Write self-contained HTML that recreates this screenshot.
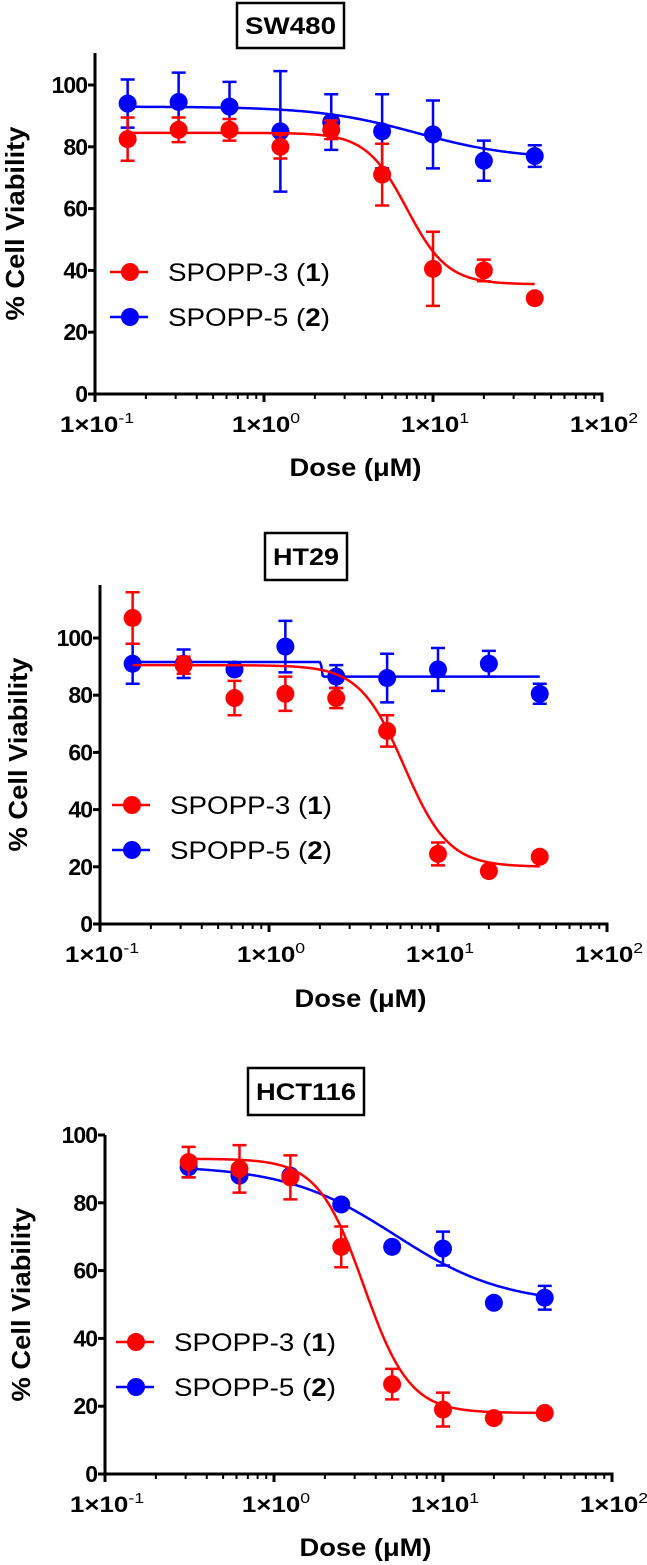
<!DOCTYPE html>
<html><head><meta charset="utf-8"><style>
html,body{margin:0;padding:0;background:#fff;}
svg{display:block;font-family:"Liberation Sans",Arial,sans-serif;}
</style></head><body>
<svg id="fig" width="647" height="1565" viewBox="0 0 647 1565" xmlns="http://www.w3.org/2000/svg"></svg>
<script>
const doses9 = [0.156, 0.3125, 0.625, 1.25, 2.5, 5, 10, 20, 40];
const doses8 = [0.3125, 0.625, 1.25, 2.5, 5, 10, 20, 40];
const yTicks = [0, 20, 40, 60, 80, 100];
const xTickExps = [-1, 0, 1, 2];
const legendLabels = ["SPOPP-3 (", "SPOPP-5 ("];
const legendNums = ["1", "2"];

const sw480Red = [82.5, 85.5, 85.5, 80, 85.5, 71, 40.5, 40, 31];
const sw480RedErr = [7, 4, 3.5, 3.8, 3, 10, 12, 3.5, 0];
const sw480Blue = [94, 94.5, 93, 85, 88, 85, 84, 75.5, 77];
const sw480BlueErr = [7.8, 9.5, 8, 19.5, 9, 12, 11, 6.5, 3.5];
const sw480RedFit = [84.5, 35.5, 7.0, 3.6];
const sw480BlueFit = [93, 76, 8, 1.5];

const ht29Red = [107, 90.5, 79, 80.5, 79, 67.5, 24.5, 18.5, 23.5];
const ht29RedErr = [9, 3, 6, 6, 3.5, 5.5, 4, 0, 0];
const ht29Blue = [91, 91, 89, 97, 86.5, 86, 89, 91, 80.5];
const ht29BlueErr = [7, 5, 0, 9, 4, 8.5, 7.5, 4.5, 3.5];
const ht29RedFit = [90.5, 20, 6.3, 3.3];
const ht29BlueFit = [91.6, 86.5, 2.05, 200];

const hctRed = [92, 90, 87.5, 67, 26.5, 19, 16.5, 18];
const hctRedErr = [4.5, 7, 6.5, 6, 4.5, 5, 0, 0];
const hctBlue = [90.5, 88, 88, 79.5, 67, 66.5, 50.5, 52];
const hctBlueErr = [3, 0, 0, 0, 0, 5, 0, 3.5];
const hctRedFit = [93, 18, 3.4, 3.2];
const hctBlueFit = [91, 50, 5.2, 1.34];

const NS = "http://www.w3.org/2000/svg";
const svg = document.getElementById('fig');
function mk(tag, attrs, parent) {
  const e = document.createElementNS(NS, tag);
  for (const k in attrs) e.setAttribute(k, attrs[k]);
  (parent || svg).appendChild(e);
  return e;
}
const RED = "#ff0000", BLUE = "#0000ff";

function chart(cfg) {
  const g = mk('g', {});
  
  
  const x0 = cfg.axX, dec = 169, y0 = cfg.y0, y100 = cfg.y100;
  const xs = d => x0 + (Math.log10(d) + 1) * dec;
  const ys = v => y0 - (v / 100) * (y0 - y100);
  const tb = mk('rect', {x: cfg.box[0], y: cfg.box[1], width: cfg.box[2], height: cfg.box[3], fill: '#fff', stroke: '#000', 'stroke-width': 2.5}, g);
  
  
  const tt = mk('text', {x: cfg.box[0] + 8, y: cfg.box[1] + cfg.box[3] / 2 + 8.5, 'font-size': 24, 'font-weight': 'bold', textLength: cfg.box[2] - 16, lengthAdjust: 'spacingAndGlyphs'}, g);
  tt.textContent = cfg.title;
  
  
  const ya = mk('line', {x1: x0, y1: cfg.top, x2: x0, y2: y0 + 1.5, stroke: '#000', 'stroke-width': 3}, g);
  
  
  const xa = mk('line', {x1: x0 - 1.5, y1: y0, x2: xs(100) + 1.5, y2: y0, stroke: '#000', 'stroke-width': 3}, g);
  
  
  yTicks.forEach(v => {
    const tl = mk('line', {x1: x0 - 7, y1: ys(v), x2: x0, y2: ys(v), stroke: '#000', 'stroke-width': 3}, g);
    
    
    const t = mk('text', {x: x0 - 8, y: ys(v) + 8, 'text-anchor': 'end', 'font-size': 23, 'font-weight': 'bold', 'letter-spacing': '-1'}, g);
    t.textContent = v;
    
    
  });
  xTickExps.forEach((e, i) => {
    const d = Math.pow(10, e);
    const tl = mk('line', {x1: xs(d), y1: y0, x2: xs(d), y2: y0 + 8, stroke: '#000', 'stroke-width': 3}, g);
    
    
    if (i < xTickExps.length - 1) {
      for (let m = 2; m <= 9; m++) {
        const mt = mk('line', {x1: xs(d * m), y1: y0, x2: xs(d * m), y2: y0 + 5, stroke: '#000', 'stroke-width': 2}, g);
        
        
      }
    }
    const lg = mk('g', {transform: `translate(${xs(d) + 2},${y0 + 38}) scale(1.18,1)`}, g);
    const t = mk('text', {x: 0, y: 0, 'text-anchor': 'middle', 'font-size': 22, 'font-weight': 'bold'}, lg);
    
    
    const s1 = mk('tspan', {}, t); s1.textContent = '1×10';
    const s2 = mk('tspan', {dy: -9, 'font-size': 15, 'font-weight': 'normal'}, t); s2.textContent = String(e);
  });
  const dx = (x0 + xs(100)) / 2 + 7;
  const xl = mk('text', {x: dx - 66, y: cfg.doseY, 'font-size': 25, 'font-weight': 'bold', textLength: 132, lengthAdjust: 'spacingAndGlyphs'}, g);
  xl.textContent = 'Dose (μM)';
  
  
  const ylc = (cfg.top + y0) / 2 + cfg.ylOff;
  const yl = mk('text', {x: -97, y: 0, transform: `translate(${cfg.ylX},${ylc}) rotate(-90)`, 'font-size': 26, 'font-weight': 'bold', textLength: 194, lengthAdjust: 'spacingAndGlyphs'}, g);
  yl.textContent = '% Cell Viability';
  
  

  function series(doses, vals, errs, fit, color, nm) {
    const sg = mk('g', {}, g);
    
    
    const [top, bot, ic, h] = fit;
    let dpath = '';
    const lo = Math.log10(doses[0]), hi = Math.log10(doses[doses.length - 1]);
    for (let i = 0; i <= 300; i++) {
      const d = Math.pow(10, lo + (hi - lo) * i / 300);
      const v = bot + (top - bot) / (1 + Math.pow(d / ic, h));
      dpath += (i ? 'L' : 'M') + xs(d).toFixed(2) + ',' + ys(v).toFixed(2);
    }
    const fp = mk('path', {d: dpath, fill: 'none', stroke: color, 'stroke-width': 2.5}, sg);
    
    
    doses.forEach((d, i) => {
      const cx = xs(d), cy = ys(vals[i]), e = errs[i];
      if (e > 0) {
        const eb = mk('path', {d: `M${cx},${ys(vals[i] - e)}L${cx},${ys(vals[i] + e)}M${cx - 7},${ys(vals[i] + e)}L${cx + 7},${ys(vals[i] + e)}M${cx - 7},${ys(vals[i] - e)}L${cx + 7},${ys(vals[i] - e)}`, stroke: color, 'stroke-width': 2.5, fill: 'none'}, sg);
        
        
      }
      const c = mk('ellipse', {cx: cx, cy: cy, rx: 9, ry: 9, fill: color}, sg);
      
      
    });
  }
  series(cfg.doses, cfg.blue, cfg.blueErr, cfg.blueFit, BLUE, 'spopp-5');
  series(cfg.doses, cfg.red, cfg.redErr, cfg.redFit, RED, 'spopp-3');
  [RED, BLUE].forEach((col, i) => {
    const ly = cfg.legY[i];
    const lg = mk('g', {}, g);
    
    
    mk('line', {x1: cfg.legX - 20, y1: ly, x2: cfg.legX + 18, y2: ly, stroke: col, 'stroke-width': 2.5}, lg);
    mk('ellipse', {cx: cfg.legX, cy: ly, rx: 9, ry: 9, fill: col}, lg);
    const t = mk('text', {x: cfg.legX + 38, y: ly + 9, 'font-size': 25, textLength: 162, lengthAdjust: 'spacingAndGlyphs'}, lg);
    const a = mk('tspan', {}, t); a.textContent = legendLabels[i];
    const b = mk('tspan', {'font-weight': 'bold'}, t); b.textContent = legendNums[i];
    const c = mk('tspan', {}, t); c.textContent = ')';
  });
}

chart({name: 'sw480', title: 'SW480', box: [237, 3, 107, 45], axX: 95, y0: 394, y100: 85, top: 53,
  doseY: 476, ylX: 24, ylOff: 0, legX: 130, legY: [272, 317], doses: doses9,
  red: sw480Red, redErr: sw480RedErr, redFit: sw480RedFit,
  blue: sw480Blue, blueErr: sw480BlueErr, blueFit: sw480BlueFit});
chart({name: 'ht29', title: 'HT29', box: [265, 533, 82, 47], axX: 100, y0: 924, y100: 638, top: 585,
  doseY: 1007, ylX: 27, ylOff: 0, legX: 132, legY: [805, 850], doses: doses9,
  red: ht29Red, redErr: ht29RedErr, redFit: ht29RedFit,
  blue: ht29Blue, blueErr: ht29BlueErr, blueFit: ht29BlueFit});
chart({name: 'hct116', title: 'HCT116', box: [248, 1068, 116, 47], axX: 105, y0: 1474, y100: 1135, top: 1135,
  doseY: 1556, ylX: 30, ylOff: 0, legX: 136, legY: [1342, 1387], doses: doses8,
  red: hctRed, redErr: hctRedErr, redFit: hctRedFit,
  blue: hctBlue, blueErr: hctBlueErr, blueFit: hctBlueFit});
</script>
</body></html>
